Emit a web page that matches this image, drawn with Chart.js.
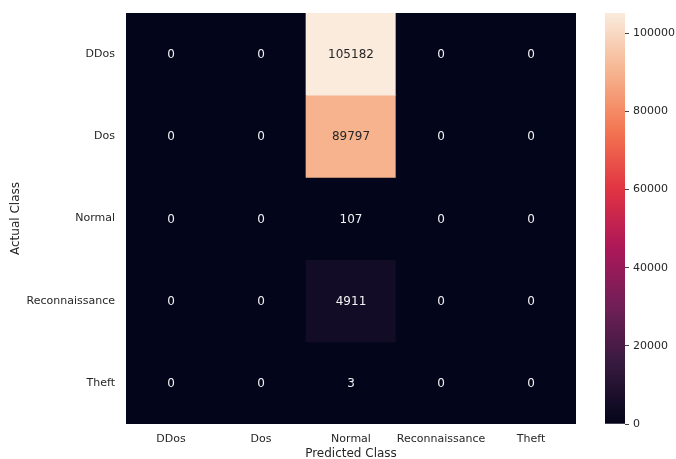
<!DOCTYPE html>
<html>
<head>
<meta charset="utf-8">
<script src="https://cdn.jsdelivr.net/npm/chart.js@4"></script>
<style>
  html, body { margin: 0; padding: 0; background: #ffffff; }
  #wrap { position: relative; width: 676px; height: 459px; }
  #heat { position: absolute; left: 0; top: 0; }
  #cbar { position: absolute; left: 590px; top: 0; }
</style>
</head>
<body>
<div id="wrap">
  <canvas id="heat" width="590" height="459"></canvas>
  <canvas id="cbar" width="86" height="459"></canvas>
</div>
<script>
const CLASSES = ["DDos", "Dos", "Normal", "Reconnaissance", "Theft"];

// rows = actual class, columns = predicted class
const ROW_DDOS    = [0, 0, 105182, 0, 0];
const ROW_DOS     = [0, 0, 89797, 0, 0];
const ROW_NORMAL  = [0, 0, 107, 0, 0];
const ROW_RECON   = [0, 0, 4911, 0, 0];
const ROW_THEFT   = [0, 0, 3, 0, 0];
const MATRIX = [ROW_DDOS, ROW_DOS, ROW_NORMAL, ROW_RECON, ROW_THEFT];

const CBAR_TICKS = [0, 20000, 40000, 60000, 80000, 100000];

const VMAX = Math.max(...MATRIX.flat());

// seaborn "rocket" colormap stops
const ROCKET = [
  [0.000, [3, 5, 26]],
  [0.143, [53, 25, 62]],
  [0.286, [112, 31, 87]],
  [0.429, [173, 23, 89]],
  [0.571, [225, 51, 66]],
  [0.714, [243, 118, 81]],
  [0.857, [246, 180, 143]],
  [1.000, [250, 235, 221]],
];

function rocket(t) {
  t = Math.min(1, Math.max(0, t));
  for (let i = 1; i < ROCKET.length; i++) {
    const [p1, c1] = ROCKET[i];
    const [p0, c0] = ROCKET[i - 1];
    if (t <= p1) {
      const f = (t - p0) / (p1 - p0);
      const c = c0.map((v, k) => Math.round(v + (c1[k] - v) * f));
      return { rgb: c, css: `rgb(${c[0]},${c[1]},${c[2]})` };
    }
  }
  const c = ROCKET[ROCKET.length - 1][1];
  return { rgb: c, css: `rgb(${c[0]},${c[1]},${c[2]})` };
}

function luminance(rgb) {
  const lin = rgb.map(v => {
    v /= 255;
    return v <= 0.03928 ? v / 12.92 : Math.pow((v + 0.055) / 1.055, 2.4);
  });
  return 0.2126 * lin[0] + 0.7152 * lin[1] + 0.0722 * lin[2];
}

const FONT = "'DejaVu Sans', sans-serif";
const TEXT = "#262626";

// keep label overhang from shrinking the plot area
function noOverhang(scale) {
  scale.paddingTop = 0;
  scale.paddingBottom = 0;
  scale.paddingLeft = 0;
  scale.paddingRight = 0;
}

// one dataset per actual-class row, floating bars span [row, row + 1]
const datasets = MATRIX.map((row, r) => ({
  label: CLASSES[r],
  data: row.map(() => [r, r + 1]),
  values: row,
  backgroundColor: row.map(v => rocket(v / VMAX).css),
  borderWidth: 0,
  barPercentage: 1,
  categoryPercentage: 1,
  grouped: false,
}));

const annotate = {
  id: 'annotate',
  afterDatasetsDraw(chart) {
    const ctx = chart.ctx;
    ctx.save();
    ctx.font = `12px ${FONT}`;
    ctx.textAlign = 'center';
    ctx.textBaseline = 'middle';
    chart.data.datasets.forEach((ds, r) => {
      chart.getDatasetMeta(r).data.forEach((bar, c) => {
        const v = ds.values[c];
        const lum = luminance(rocket(v / VMAX).rgb);
        ctx.fillStyle = lum > 0.408 ? TEXT : '#f2f2f2';
        const p = bar.getCenterPoint();
        ctx.fillText(String(v), p.x, p.y + 1);
      });
    });
    ctx.restore();
  }
};

new Chart(document.getElementById('heat'), {
  type: 'bar',
  data: { labels: CLASSES, datasets },
  plugins: [annotate],
  options: {
    responsive: false,
    animation: false,
    layout: { padding: { left: 0, right: 14, top: 13, bottom: 0 } },
    plugins: { legend: { display: false }, tooltip: { enabled: false } },
    scales: {
      x: {
        grid: { display: false, drawTicks: false },
        border: { display: false },
        ticks: { color: TEXT, font: { family: FONT, size: 11 }, padding: 9, maxRotation: 0, autoSkip: false },
        title: { display: true, text: 'Predicted Class', color: TEXT, font: { family: FONT, size: 12 }, padding: { top: 0, bottom: -2 } },
        afterFit(scale) { scale.height = 35; noOverhang(scale); },
      },
      y: {
        type: 'linear',
        min: 0,
        max: 5,
        reverse: true,
        grid: { display: false, drawTicks: false },
        border: { display: false },
        afterBuildTicks(scale) {
          scale.ticks = CLASSES.map((_, i) => ({ value: i + 0.5 }));
        },
        ticks: {
          color: TEXT,
          font: { family: FONT, size: 11 },
          padding: 11,
          callback: (v) => CLASSES[Math.floor(v)],
        },
        title: { display: true, text: 'Actual Class', color: TEXT, font: { family: FONT, size: 12 }, padding: { top: 9, bottom: 0 } },
        afterFit(scale) { scale.width = 126; noOverhang(scale); },
      },
    },
  },
});

// colour bar: a single floating bar filled with the rocket gradient
new Chart(document.getElementById('cbar'), {
  type: 'bar',
  data: {
    labels: [''],
    datasets: [{
      data: [[0, VMAX]],
      borderWidth: 0,
      barPercentage: 1,
      categoryPercentage: 1,
      backgroundColor(ctx) {
        const chart = ctx.chart;
        const y = chart.scales.y;
        if (!chart.chartArea || !y) return '#03051a';
        const y0 = y.getPixelForValue(0);
        const y1 = y.getPixelForValue(VMAX);
        if (!isFinite(y0) || !isFinite(y1)) return '#03051a';
        const g = chart.ctx.createLinearGradient(0, y0, 0, y1);
        for (let i = 0; i <= 50; i++) g.addColorStop(i / 50, rocket(i / 50).css);
        return g;
      },
    }],
  },
  options: {
    responsive: false,
    animation: false,
    layout: { padding: { left: 15, right: 0, top: 13, bottom: 35 } },
    plugins: { legend: { display: false }, tooltip: { enabled: false } },
    scales: {
      x: { display: false },
      y: {
        position: 'right',
        min: 0,
        max: VMAX,
        grid: { drawOnChartArea: false, drawTicks: true, tickLength: 4, color: '#444444' },
        border: { display: false },
        afterBuildTicks(scale) {
          scale.ticks = CBAR_TICKS.map(v => ({ value: v }));
        },
        ticks: { color: TEXT, font: { family: FONT, size: 11 }, padding: 4, callback: v => String(v) },
        afterFit(scale) { scale.width = 51; noOverhang(scale); },
      },
    },
  },
});
</script>
</body>
</html>
